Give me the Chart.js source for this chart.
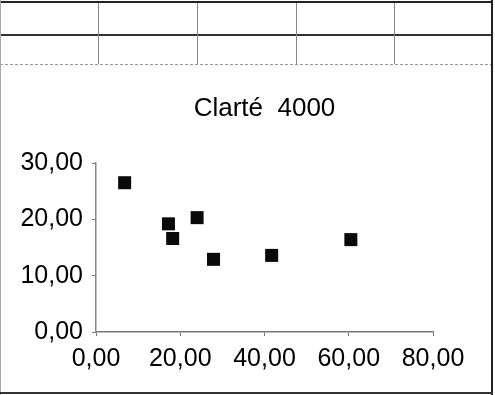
<!DOCTYPE html>
<html><head><meta charset="utf-8">
<script src="https://cdn.jsdelivr.net/npm/chart.js@4"></script>
<style>
html,body{margin:0;padding:0;background:#fff;}
#wrap{position:relative;width:495px;height:395px;overflow:hidden;background:#fff;}
.l{position:absolute;}
#c{position:absolute;left:0;top:0;}
</style></head><body>
<div id="wrap">
 <div class="l" style="left:0;top:1px;width:493px;height:2px;background:#222"></div>
 <div class="l" style="left:0;top:34px;width:493px;height:2px;background:#333"></div>
 <div class="l" style="left:0;top:64px;width:493px;border-top:1px dashed #999"></div>
 <div class="l" style="left:98px;top:3px;width:1px;height:61px;background:#888"></div>
 <div class="l" style="left:197px;top:3px;width:1px;height:61px;background:#888"></div>
 <div class="l" style="left:296px;top:3px;width:1px;height:61px;background:#888"></div>
 <div class="l" style="left:394px;top:3px;width:1px;height:61px;background:#888"></div>
 <div class="l" style="left:0;top:0;width:1px;height:395px;background:#aaa"></div>
 <div class="l" style="left:491px;top:0;width:2px;height:395px;background:#222"></div>
 <div class="l" style="left:0;top:392px;width:493px;height:2px;background:#333"></div>
 <canvas id="c" width="495" height="395" style="width:495px;height:395px"></canvas>
</div>
<script>
const chartTitle = "Clarté  4000";
const xValues = [6.8, 17.2, 18.2, 24.0, 27.9, 41.7, 60.5];
const yValues = [26.5, 19.2, 16.6, 20.3, 12.9, 13.6, 16.4];
const xTicks = [0, 20, 40, 60, 80];
const yTicks = [0, 10, 20, 30];

const fmt = v => v.toFixed(2).replace('.', ',');
const points = xValues.map((x, i) => ({x: x, y: yValues[i]}));
const tickFont = {family: "'Liberation Sans', Arial, sans-serif", size: 25};

new Chart(document.getElementById('c'), {
  type: 'scatter',
  data: {datasets: [{
    data: points,
    pointStyle: 'rect',
    pointRadius: 9.2,
    pointHoverRadius: 9.2,
    backgroundColor: '#0a0a0a',
    borderColor: '#0a0a0a',
    borderWidth: 0
  }]},
  options: {
    responsive: false,
    animation: false,
    events: [],
    layout: {padding: {left: 0, right: 62, top: 0, bottom: 10}},
    plugins: {
      legend: {display: false},
      tooltip: {enabled: false},
      title: {
        display: true,
        text: chartTitle,
        fullSize: false,
        color: '#000',
        font: {family: "'Liberation Sans', Arial, sans-serif", size: 26, weight: 'normal', lineHeight: 1.2},
        padding: {top: 93.4, bottom: 38.4}
      }
    },
    scales: {
      x: {
        type: 'linear',
        min: xTicks[0], max: xTicks[xTicks.length - 1],
        afterBuildTicks: s => { s.ticks = xTicks.map(v => ({value: v})); },
        afterFit: s => { s.height = 53; },
        ticks: {color: '#000', font: tickFont, padding: 8, maxRotation: 0, autoSkip: false, callback: v => fmt(v)},
        grid: {drawOnChartArea: false, drawTicks: true, tickLength: 4, color: '#777'},
        border: {display: true, color: '#777', width: 1.5}
      },
      y: {
        type: 'linear',
        min: yTicks[0], max: yTicks[yTicks.length - 1],
        afterBuildTicks: s => { s.ticks = yTicks.map(v => ({value: v})); },
        afterFit: s => { s.width = 96; },
        ticks: {color: '#000', font: tickFont, padding: 9, autoSkip: false, callback: v => fmt(v)},
        grid: {drawOnChartArea: false, drawTicks: true, tickLength: 4, color: '#777'},
        border: {display: true, color: '#888', width: 1.5, dash: [8, 3]}
      }
    }
  }
});
</script>
</body></html>
